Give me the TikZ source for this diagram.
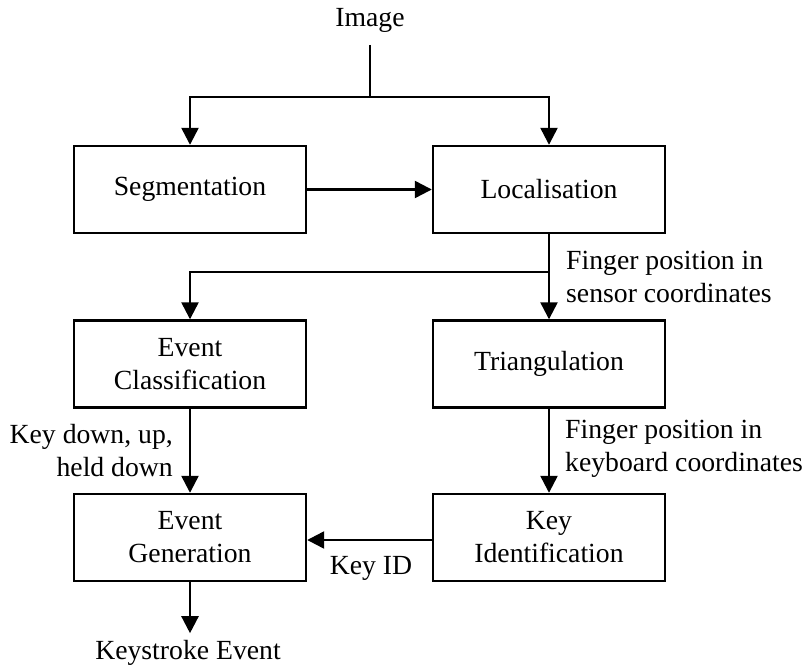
\documentclass[tikz,border=0pt]{standalone}
\usepackage{fontspec}
\setmainfont{Liberation Serif}
\usetikzlibrary{arrows.meta}

\begin{document}
\begin{tikzpicture}[
  x=1pt, y=-1pt,
  every node/.style={font=\fontsize{27.7}{33}\selectfont},
  stage/.style={draw, line width=2.4pt, minimum width=232pt, minimum height=87pt,
                align=center, inner sep=0pt},
  flow/.style={line width=2.4pt, -{Triangle[length=17pt, width=17pt]}},
  plain/.style={line width=2.4pt},
  lbl/.style={inner sep=0pt}
]
\useasboundingbox (0,0) rectangle (808,668);

% processing stages
\node[stage] (seg) at (190,189.5) {Segmentation};
\node[stage] (loc) at (549,189.5) {Localisation};
\node[stage] (ec)  at (190,364)   {Event\\Classification};
\node[stage] (tri) at (549,364)   {Triangulation};
\node[stage] (eg)  at (190,537.5) {Event\\Generation};
\node[stage] (ki)  at (549,537.5) {Key\\Identification};

% input and output
\node[inner xsep=0pt, inner ysep=12.5pt] (img) at (370,20) {Image};
\node[inner xsep=0pt, inner ysep=7pt] (ks) at (188,653) {Keystroke Event};

% data labels
\node[lbl, anchor=west, align=left]  (l1) at (566,277) {Finger position in\\sensor coordinates};
\node[lbl, anchor=east, align=right] (l2) at (173,451) {Key down, up,\\held down};
\node[lbl, anchor=west, align=left]  (l3) at (565,449) {Finger position in\\keyboard coordinates};
\node[lbl] (l4) at (371,568) {Key ID};

% junction points
\coordinate (split)  at (370,97);
\coordinate (branch) at (549,272);

% connectors
\draw[plain] (img) -- (split);
\draw[flow] (split) -| (seg.north);
\draw[flow] (split) -| (loc.north);
\draw[flow] (seg) -- (loc);
\draw[flow] (loc) -- (tri);
\draw[flow] (branch) -| (ec.north);
\draw[flow] (ec) -- (eg);
\draw[flow] (tri) -- (ki);
\draw[flow] (ki.west |- 0,540) -- (eg.east |- 0,540);
\draw[flow] (eg.south) -- (eg.south |- ks.north);
\end{tikzpicture}
\end{document}
